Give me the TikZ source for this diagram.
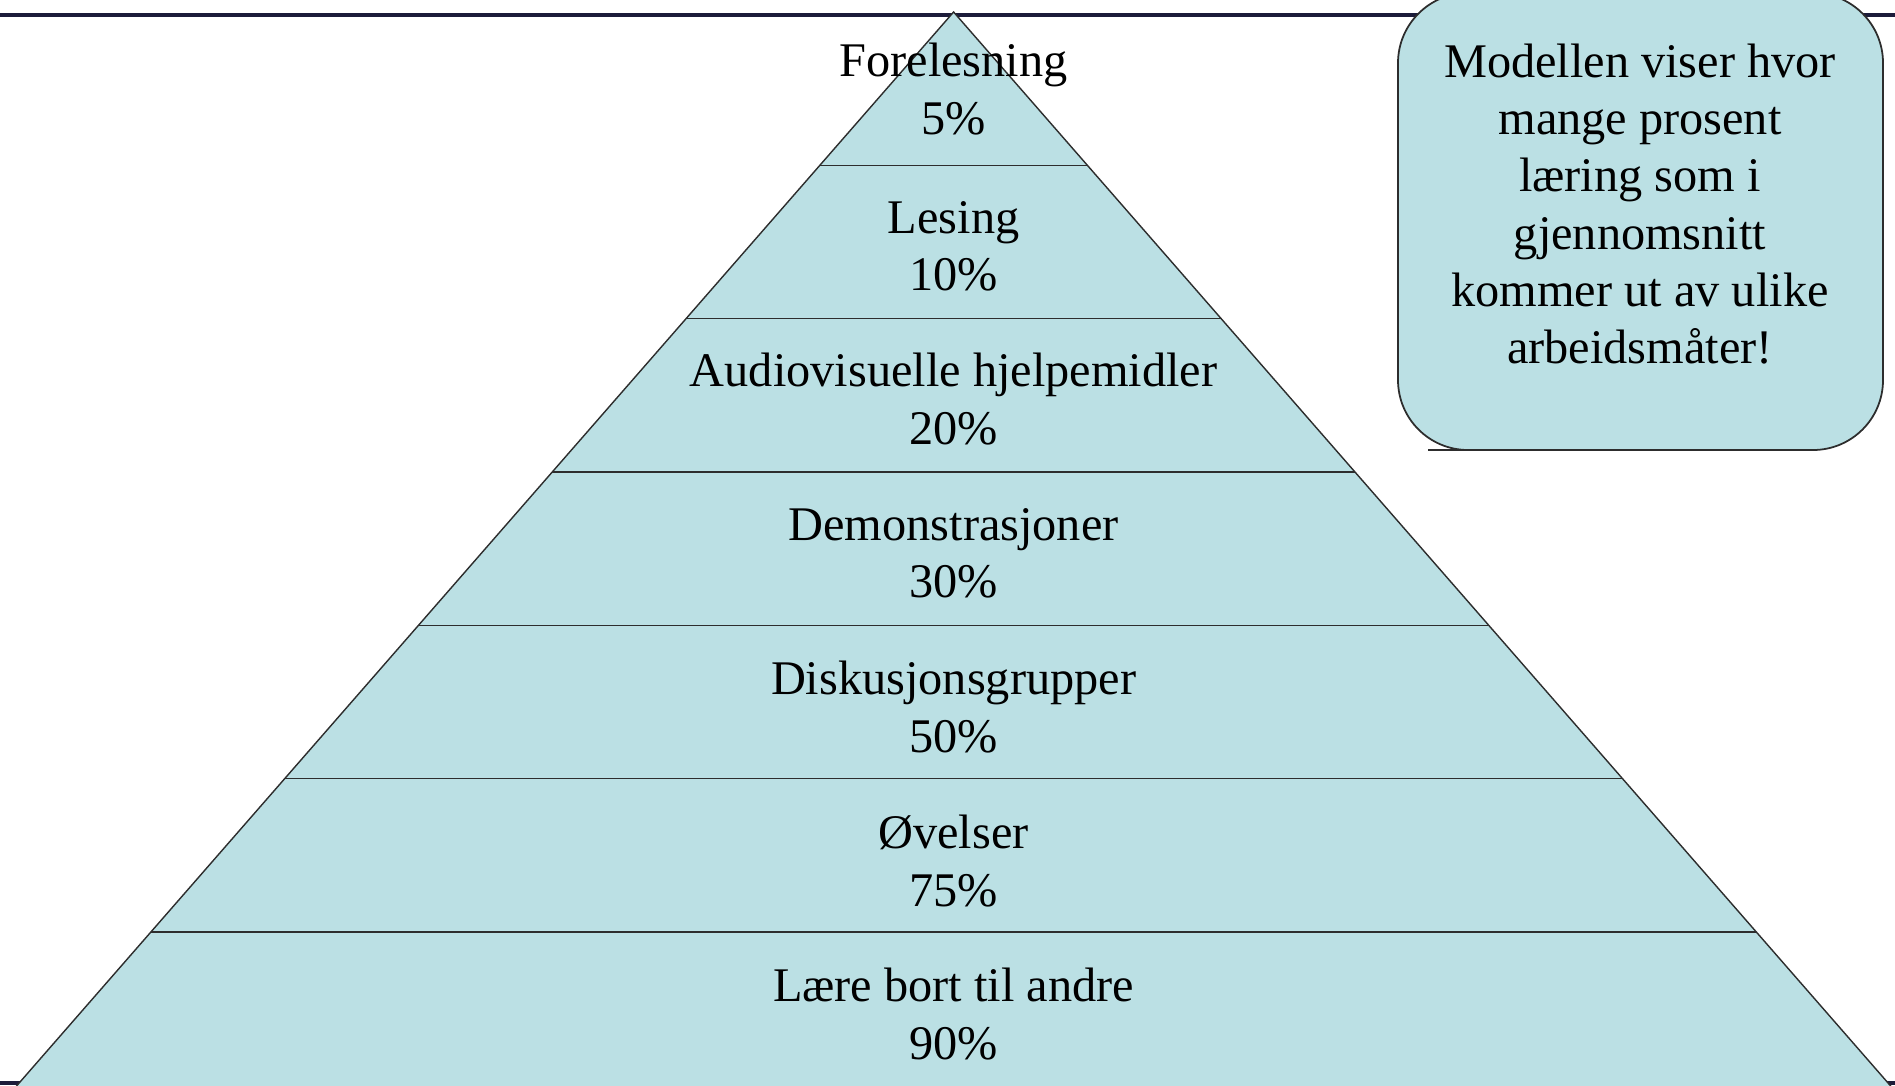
\documentclass[tikz,border=0pt]{standalone}
\usepackage{fontspec}
\setmainfont{Liberation Serif}
\definecolor{lyseblaa}{RGB}{187,224,228}
\definecolor{marine}{RGB}{28,28,58}
\definecolor{kant}{RGB}{45,45,45}
\tikzset{
  lag/.style={align=center, inner sep=0pt, font=\fontsize{27.5}{32.6}\selectfont},
  delestrek/.style={draw=kant, line width=0.8pt},
  boks/.style={fill=lyseblaa, draw=kant, line width=1pt, rounded corners=1.4cm},
}

\begin{document}
\begin{tikzpicture}[x=0.02cm, y=-0.02cm]
    \useasboundingbox (0,0) rectangle (1895,1085);
    \clip (0,0) rectangle (1895,1085);
    \draw[marine, line width=2.3pt] (0,15) -- (1895,15);
    \draw[marine, line width=2.5pt] (0,1083) -- (1895,1083);
    % pyramiden
    \coordinate (topp) at (953.6, 12);
    \coordinate (v7) at (4.3, 1100);
    \coordinate (h7) at (1902.9, 1100);
    \filldraw[fill=lyseblaa, delestrek] (topp) -- (v7) -- (h7) -- cycle;
    \coordinate (v1) at (819.8, 165.3);
    \coordinate (h1) at (1087.4, 165.3);
    \coordinate (v2) at (686.1, 318.6);
    \coordinate (h2) at (1221.1, 318.6);
    \coordinate (v3) at (552.3, 471.9);
    \coordinate (h3) at (1354.9, 471.9);
    \coordinate (v4) at (418.6, 625.2);
    \coordinate (h4) at (1488.6, 625.2);
    \coordinate (v5) at (284.8, 778.5);
    \coordinate (h5) at (1622.4, 778.5);
    \coordinate (v6) at (151.1, 931.8);
    \coordinate (h6) at (1756.1, 931.8);
    \draw[delestrek] (v1) -- (h1);
    \draw[delestrek] (v2) -- (h2);
    \draw[delestrek] (v3) -- (h3);
    \draw[delestrek] (v4) -- (h4);
    \draw[delestrek] (v5) -- (h5);
    \draw[delestrek] (v6) -- (h6);
    \node[lag] (forelesning) at (953.6, 89) {Forelesning\\5\%};
    \node[lag] (lesing) at (953.6, 246) {Lesing\\10\%};
    \node[lag] (audio) at (953.6, 399) {Audiovisuelle hjelpemidler\\20\%};
    \node[lag] (demo) at (953.6, 553) {Demonstrasjoner\\30\%};
    \node[lag] (diskusjon) at (953.6, 707) {Diskusjonsgrupper\\50\%};
    \node[lag] (ovelser) at (953.6, 861) {Øvelser\\75\%};
    \node[lag] (laere) at (953.6, 1014) {Lære bort til andre\\90\%};
    % forklaring
    \draw[boks] (1398,-7) rectangle (1883,450);
    \coordinate (kv) at (1428,450);
    \coordinate (kh) at (1470,450);
    \draw[kant, line width=1.4pt] (kv) -- (kh);
    \node[lag] (modell) at (1640,204) {Modellen viser hvor\\mange prosent\\læring som i\\gjennomsnitt\\kommer ut av ulike\\arbeidsmåter!};
\end{tikzpicture}
\end{document}
